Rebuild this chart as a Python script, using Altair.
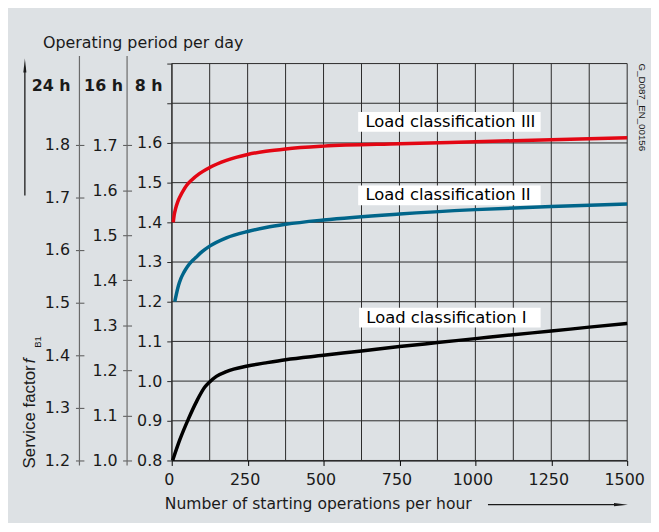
import altair as alt
import pandas as pd

# ---------------- data ----------------
x_ticks = [0, 250, 500, 750, 1000, 1250, 1500]
x_grid = [0, 125, 250, 375, 500, 625, 750, 875, 1000, 1125, 1250, 1375, 1500]
y8_grid = [0.8, 0.9, 1.0, 1.1, 1.2, 1.3, 1.4, 1.5, 1.6, 1.7, 1.8]
y16_ticks = [1.0, 1.1, 1.2, 1.3, 1.4, 1.5, 1.6, 1.7]
y24_ticks = [1.2, 1.3, 1.4, 1.5, 1.6, 1.7, 1.8]

red_x = [5, 8, 13, 20, 28, 38, 50, 65, 90, 125, 180, 250, 310, 375, 500, 750, 1000, 1250, 1500]
red_y = [1.40, 1.418, 1.435, 1.452, 1.466, 1.480, 1.494, 1.506, 1.522, 1.538, 1.556, 1.571,
         1.579, 1.585, 1.592, 1.598, 1.603, 1.608, 1.613]

blue_x = [10, 15, 22, 30, 40, 52, 65, 80, 100, 125, 180, 250, 310, 375, 500, 750, 1000, 1250, 1500]
blue_y = [1.20, 1.218, 1.240, 1.258, 1.274, 1.289, 1.301, 1.312, 1.326, 1.340, 1.361, 1.377,
          1.387, 1.395, 1.406, 1.421, 1.432, 1.440, 1.446]

black_x = [3, 27, 54, 82, 109, 125, 147, 180, 250, 310, 375, 500, 625, 750, 875, 1000, 1125, 1250, 1375, 1500]
black_y = [0.80, 0.853, 0.903, 0.949, 0.985, 0.998, 1.012, 1.024, 1.038, 1.046, 1.054, 1.065,
           1.076, 1.087, 1.097, 1.107, 1.117, 1.126, 1.136, 1.145]

series_names = ["Load classification III", "Load classification II", "Load classification I"]
series_colors = ["#e30613", "#00658a", "#000000"]
label_x = [638, 638, 641]
label_y = [1.653, 1.468, 1.160]

# ---------------- tables ----------------
curves = pd.concat([
    pd.DataFrame({"x": red_x, "v": red_y, "s": series_names[0]}),
    pd.DataFrame({"x": blue_x, "v": blue_y, "s": series_names[1]}),
    pd.DataFrame({"x": black_x, "v": black_y, "s": series_names[2]}),
], ignore_index=True)

labels = pd.DataFrame({"t": series_names, "x": label_x, "v": label_y})
labels["x0"] = labels["x"] - 24
labels["x1"] = 1215
labels["v0"] = labels["v"] - 0.025
labels["v1"] = labels["v"] + 0.025

FONT = "DejaVu Sans"
TXT = "#1a1a1a"
GRID = "#2a2a2a"

X = alt.Scale(domain=[0, 1500], nice=False, zero=False)
Y8 = alt.Scale(domain=[0.8, 1.8], nice=False, zero=False)
Y16 = alt.Scale(domain=[1.0, 1.881], nice=False, zero=False)
Y24 = alt.Scale(domain=[1.2, 1.954], nice=False, zero=False)

x_axis = alt.Axis(values=x_ticks, format="d", title=None, grid=False,
                  domainColor="#000", domainWidth=1.2, tickColor="#000", tickSize=5,
                  labelPadding=6, labelOffset=-3, labelFont=FONT, labelFontSize=16,
                  labelColor=TXT, labelFlush=False, labelOverlap=False, labelBound=False)

y8_axis = alt.Axis(values=y8_grid, orient="left", offset=0, title=None, grid=False,
                   labelExpr="datum.value > 1.65 ? '' : format(datum.value, '.1f')",
                   domainColor="#707070", domainWidth=1.5, tickColor=GRID, tickSize=5,
                   labelPadding=5, labelFont=FONT, labelFontSize=16, labelColor=TXT,
                   labelOverlap=False, labelFlush=False)

y16_axis = alt.Axis(values=y16_ticks, orient="left", offset=40.5, title=None, grid=False,
                    format=".1f", domain=False, tickColor="#555", tickSize=9,
                    labelPadding=5.5, labelFont=FONT, labelFontSize=16, labelColor=TXT,
                    labelOverlap=False, labelFlush=False)

y24_axis = alt.Axis(values=y24_ticks, orient="left", offset=88.5, title=None, grid=False,
                    format=".1f", domain=False, tickColor="#555", tickSize=8.5,
                    labelPadding=6, labelFont=FONT, labelFontSize=16, labelColor=TXT,
                    labelOverlap=False, labelFlush=False)

one = pd.DataFrame({"a": [0]})


def txt(s, x, y, size=16, font=FONT, align="left", baseline="alphabetic", angle=0,
        weight="normal", style="normal"):
    return alt.Chart(one).mark_text(
        text=s, font=font, fontSize=size, align=align, baseline=baseline, angle=angle,
        fontWeight=weight, fontStyle=style, color=TXT
    ).encode(x=alt.value(x), y=alt.value(y))


def vline(x, y1, y2, color="#6a6a6a", w=1.2):
    return alt.Chart(one).mark_rule(color=color, strokeWidth=w).encode(
        x=alt.value(x), y=alt.value(y1), y2=alt.value(y2))


def hline(x1, x2, y, color=TXT, w=1.3):
    return alt.Chart(one).mark_rule(color=color, strokeWidth=w).encode(
        x=alt.value(x1), x2=alt.value(x2), y=alt.value(y))


def head(x, y, path):
    return alt.Chart(one).mark_point(shape=path, size=196, filled=True, opacity=1,
                                     color=TXT, strokeWidth=0).encode(
        x=alt.value(x), y=alt.value(y))


vgrid = alt.Chart(pd.DataFrame({"x": x_grid})).mark_rule(color=GRID, strokeWidth=1).encode(
    x=alt.X("x:Q", scale=X, axis=x_axis))
hgrid = alt.Chart(pd.DataFrame({"v": y8_grid})).mark_rule(color=GRID, strokeWidth=1).encode(
    y=alt.Y("v:Q", scale=Y8, axis=y8_axis))

boxes = alt.Chart(labels).mark_rect(color="white").encode(
    x=alt.X("x0:Q", scale=X, axis=x_axis), x2="x1:Q",
    y=alt.Y("v0:Q", scale=Y8, axis=y8_axis), y2="v1:Q")

label_text = alt.Chart(labels).mark_text(
    font=FONT, fontSize=16.5, align="left", baseline="middle", color="#000").encode(
    x=alt.X("x:Q", scale=X, axis=x_axis), y=alt.Y("v:Q", scale=Y8, axis=y8_axis), text="t:N")

lines = alt.Chart(curves).mark_line(strokeWidth=3.5, interpolate="monotone").encode(
    x=alt.X("x:Q", scale=X, axis=x_axis),
    y=alt.Y("v:Q", scale=Y8, axis=y8_axis),
    color=alt.Color("s:N", scale=alt.Scale(domain=series_names, range=series_colors), legend=None),
)

deco = [
    txt("Operating period per day", -129.7, -15.5, size=16),
    txt("24 h", -121.5, 27.3, weight="bold", align="center"),
    txt("16 h", -68.7, 27.3, weight="bold", align="center"),
    txt("8 h", -23.3, 27.3, weight="bold", align="center"),
    vline(-93, -7.7, 405),
    vline(-45, -7.7, 405),
    vline(-148, 4, 133, color=TXT, w=1.3),
    head(-148, 2, "M0,-1L0.22,1L-0.22,1Z"),
    txt("Service factor ", -138, 408, size=17, font="Liberation Sans", angle=270),
    txt("f", -138, 302, size=17, font="Liberation Sans", angle=270, style="italic"),
    txt("B1", -131.3, 286.5, size=9.5, font="Liberation Sans", angle=270),
    txt("G_D087_EN_00156", 471, 0, size=9.8, font="Liberation Sans", angle=90),
    txt("Number of starting operations per hour", -7, 449, size=15.7),
    hline(318.7, 446, 444.5),
    head(452.7, 444.5, "M-1,-0.22L1,0L-1,0.22Z"),
]

main = alt.layer(vgrid, hgrid, boxes, label_text, lines, *deco)

ax16 = alt.Chart(pd.DataFrame({"v": y16_ticks})).mark_point(opacity=0).encode(
    y=alt.Y("v:Q", scale=Y16, axis=y16_axis))
ax24 = alt.Chart(pd.DataFrame({"v": y24_ticks})).mark_point(opacity=0).encode(
    y=alt.Y("v:Q", scale=Y24, axis=y24_axis))

chart = alt.layer(main, ax16, ax24).resolve_scale(y="independent").properties(
    width=459, height=400,
    padding={"left": 165, "top": 54, "right": 24, "bottom": 61},
    autosize=alt.AutoSizeParams(type="none"),
    background="#dde1e4",
).configure_view(strokeWidth=0)

chart.save("out.html", embed_options={"renderer": "svg", "actions": False})
